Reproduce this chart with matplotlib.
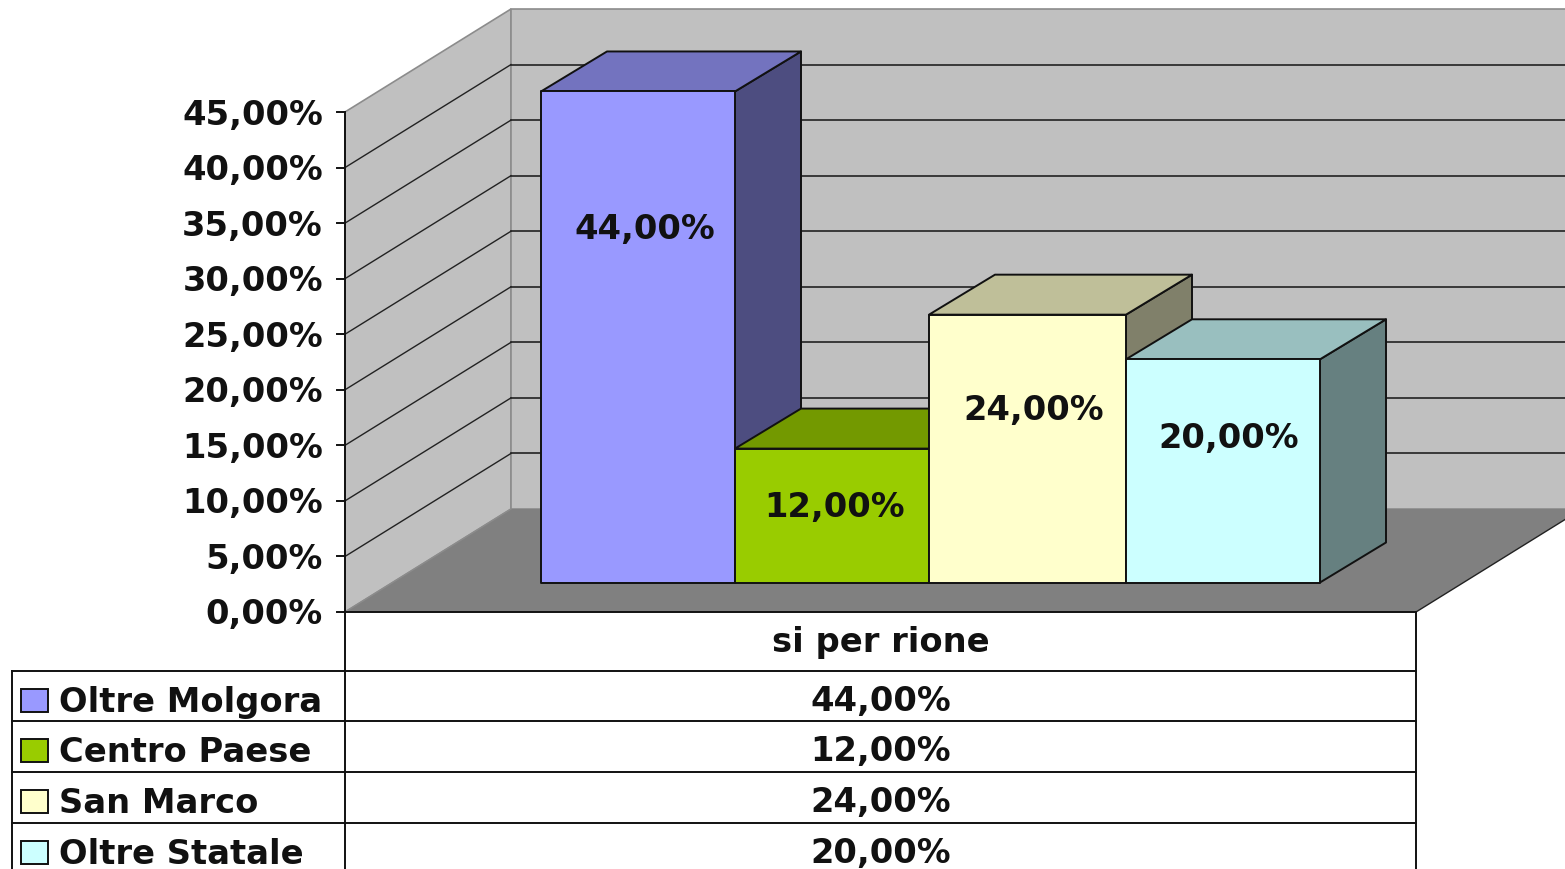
import matplotlib
matplotlib.use("Agg")
import matplotlib.pyplot as plt
from matplotlib.patches import Polygon, Rectangle

# data
rioni = ["Oltre Molgora", "Centro Paese", "San Marco", "Oltre Statale"]
valori = [44, 12, 24, 20]
serie = "si per rione"
ticks = [0, 5, 10, 15, 20, 25, 30, 35, 40, 45]

col_front = ["#9999FF", "#99CC00", "#FFFFCC", "#CCFFFF"]
col_top = ["#7373BF", "#739900", "#BFBF99", "#99BFBF"]
col_side = ["#4D4D80", "#4D6600", "#80806A", "#668080"]

plt.rcParams["font.family"] = ["DejaVu Sans"]
FS = 24.3

fig = plt.figure(figsize=(15.65, 8.7), dpi=100)
ax = fig.add_axes([0, 0, 1, 1])
ax.set_xlim(0, 1565)
ax.set_ylim(870, 0)
ax.axis("off")

# pixel layout of the fake 3d box
X0, Y0 = 345, 613
DX, DY = 166, -103
SCALE = 500 / 45
XR = 1416
LW = 1.4


def perc(v):
    return f"{v:.2f}%".replace(".", ",")


def poly(pts, fc, z=1):
    ax.add_patch(Polygon(pts, closed=True, fc=fc, ec="#111111", lw=LW, zorder=z, joinstyle="round"))


def txt(x, y, s, ha="center", z=6):
    ax.text(x, y, s, ha=ha, va="center", fontsize=FS, fontweight="bold",
            color="#111111", zorder=z)


# walls and floor
top_y = Y0 - ticks[-1] * SCALE
ax.add_patch(Polygon([(X0, Y0), (X0 + DX, Y0 + DY), (X0 + DX, top_y + DY), (X0, top_y)],
                     fc="#C0C0C0", ec="#8C8C8C", lw=1.2, zorder=1))
ax.add_patch(Rectangle((X0 + DX, top_y + DY), 1600 - X0 - DX, Y0 - top_y,
                       fc="#C0C0C0", ec="#8C8C8C", lw=1.2, zorder=1))
ax.add_patch(Polygon([(X0, Y0), (X0 + DX, Y0 + DY), (XR + DX, Y0 + DY), (XR, Y0)],
                     fc="#808080", ec="none", zorder=2))
ax.plot([X0, X0 + DX], [Y0, Y0 + DY], color="#8C8C8C", lw=1.0, zorder=2)
ax.plot([XR, XR + DX], [Y0, Y0 + DY], color="#222222", lw=1.0, zorder=2)

# grid and y ticks
for t in ticks:
    y = Y0 - t * SCALE
    if 0 < t < ticks[-1]:
        ax.plot([X0, X0 + DX], [y, y + DY], color="#222222", lw=1.0, zorder=2)
        ax.plot([X0 + DX, 1565], [y + DY, y + DY], color="#222222", lw=1.2, zorder=2)
    ax.plot([X0 - 8, X0], [y, y], color="#111111", lw=LW, zorder=2)
    txt(323, y + 2, perc(t), ha="right")
ax.plot([X0, X0], [top_y, Y0], color="#111111", lw=LW, zorder=2)

# bars, painted left to right so each one covers the side of the last
bar_edges = [541, 735, 929, 1126, 1320]
BAR_B = 583.5
BAR_DX, BAR_DY = 66, -40
BAR_SCALE = 11.16
label_x = [645, 835, 1034, 1229]
label_y = [229, 508, 411, 439]
for i, v in enumerate(valori):
    l, r = bar_edges[i], bar_edges[i + 1]
    t = BAR_B - v * BAR_SCALE
    poly([(r, BAR_B), (r + BAR_DX, BAR_B + BAR_DY), (r + BAR_DX, t + BAR_DY), (r, t)], col_side[i], z=3)
    poly([(l, t), (l + BAR_DX, t + BAR_DY), (r + BAR_DX, t + BAR_DY), (r, t)], col_top[i], z=3)
    poly([(l, t), (r, t), (r, BAR_B), (l, BAR_B)], col_front[i], z=3)
    txt(label_x[i], label_y[i], perc(v))

# data table with legend keys
row_y = [671.5, 722, 772.5, 823.5]
ax.plot([X0, X0], [Y0, 870], color="#111111", lw=LW, zorder=5)
ax.plot([XR, XR], [Y0, 870], color="#111111", lw=LW, zorder=5)
ax.plot([12, 12], [row_y[0], 870], color="#111111", lw=LW, zorder=5)
ax.plot([X0, XR], [Y0, Y0], color="#111111", lw=LW, zorder=5)
txt((X0 + XR) / 2, 643, serie)
for i, name in enumerate(rioni):
    y = row_y[i]
    ax.plot([12, XR], [y, y], color="#111111", lw=LW, zorder=5)
    ax.add_patch(Rectangle((21, y + 18), 27, 23, fc=col_front[i], ec="#111111", lw=LW, zorder=5))
    txt(59, y + 31, name, ha="left")
    txt((X0 + XR) / 2, y + 30, perc(valori[i]))

fig.savefig("out.png", dpi=100)
